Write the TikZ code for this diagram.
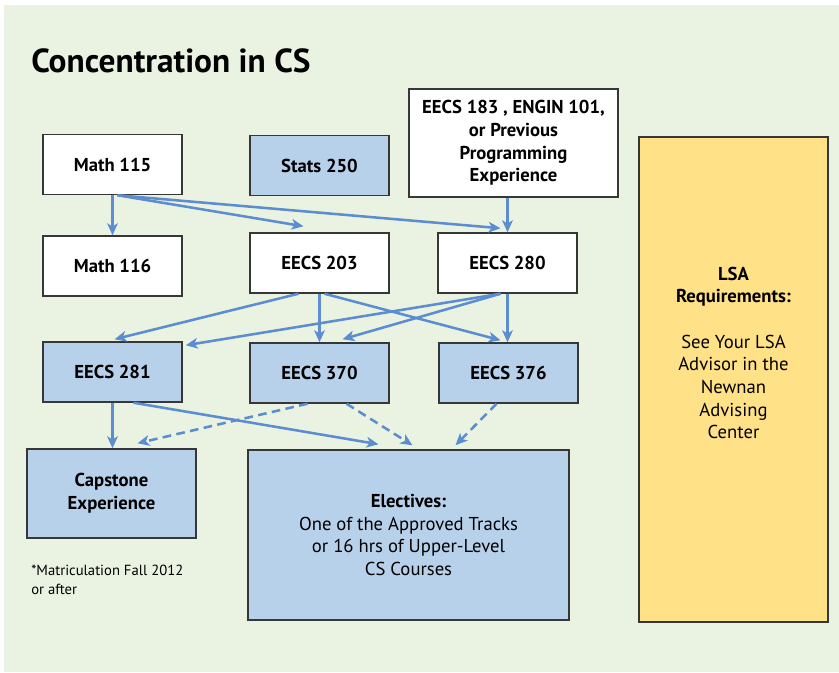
\documentclass[tikz,border=0pt]{standalone}
\usepackage{fontspec}
\setmainfont{PT Sans}
\usetikzlibrary{arrows.meta,calc}
\definecolor{bggreen}{RGB}{234,243,225}
\definecolor{boxblue}{RGB}{184,209,235}
\definecolor{lsayellow}{RGB}{255,225,135}
\definecolor{arrowblue}{RGB}{91,141,208}
\definecolor{edgegray}{RGB}{55,55,55}
\begin{document}
\begin{tikzpicture}[x = 0.75pt, y = -0.75pt,
		course/.style = {draw = edgegray, line width = 1.1pt, fill = white, minimum width = 104.25pt, minimum height = 45pt, inner sep = 0pt, align = center, font = \fontsize{14}{17}\selectfont\bfseries},
		bluecourse/.style = {course, fill = boxblue},
		prereq/.style = {draw = arrowblue, line width = 1.9pt, -{Stealth[length = 9pt, width = 8pt, inset = 2.5pt]}},
		optional/.style = {prereq, dash pattern = on 6.5pt off 4pt}]
	\useasboundingbox (0,0) rectangle (839,673);
	\fill[bggreen] (4,5) rectangle (839,672);
	\node[anchor = base west, inner xsep = 0pt, font = \fontsize{25}{30}\selectfont\bfseries] (title) at (31,73) {Concentration in CS};
	% first row
	\node[course] (m115) at (112.5,164.5) {Math 115};
	\node[bluecourse] (st250) at (319.5,165.5) {Stats 250};
	\node[course, minimum width = 156.75pt, minimum height = 81pt] (e183) at (513.5,143) {EECS 183 , ENGIN 101,\\ or Previous\\ Programming\\ Experience};
	% second row
	\node[course] (m116) at (112.5,266) {Math 116};
	\node[course] (e203) at (319.5,263) {EECS 203};
	\node[course] (e280) at (507.5,263) {EECS 280};
	% third row
	\node[bluecourse] (e281) at (112.5,372) {EECS 281};
	\node[bluecourse] (e370) at (319.5,373) {EECS 370};
	\node[bluecourse] (e376) at (508.5,373) {EECS 376};
	% last row
	\node[bluecourse, minimum width = 126.75pt, minimum height = 66.75pt] (cap) at (111.5,493.5) {Capstone\\ Experience};
	\node[bluecourse, minimum width = 240.75pt, minimum height = 127.5pt] (elec) at (408.5,535) {Electives:\\ \mdseries One of the Approved Tracks\\ \mdseries or 16 hrs of Upper-Level\\ \mdseries CS Courses};
	\node[anchor = base west, inner xsep = 0pt, align = left, font = \fontsize{11}{14.25}\selectfont] (note) at (31,594) {*Matriculation Fall 2012\\ or after};
	% LSA box
	\node[draw = edgegray, line width = 1.1pt, fill = lsayellow, minimum width = 141.75pt, minimum height = 363.75pt] (lsa) at (733.5,379.5) {};
	\node[align = center, font = \fontsize{14}{17}\selectfont] (lsatext) at (733.5,353) {\bfseries LSA\\ \bfseries Requirements:\\[17pt] See Your LSA\\ Advisor in the\\ Newnan\\ Advising\\ Center};
	% connectors
	\draw[prereq] (m115.south) -- (m116.north);
	\draw[prereq] ($(m115.south)+(5,0)$) -- ($(e203.north)+(-16,-6)$);
	\draw[prereq] ($(m115.south)+(5,0)$) -- ($(e280.north)+(-7,-4)$);
	\draw[prereq] (e280.north |- e183.south) -- (e280.north);
	\draw[prereq] ($(e203.south)+(-21,0)$) -- ($(e281.north)+(2,-2)$);
	\draw[prereq] (e203.south) -- (e370.north);
	\draw[prereq] ($(e203.south)+(5,0)$) -- ($(e376.north)+(-8,-2)$);
	\draw[prereq] ($(e280.south)+(-7,0)$) -- ($(e281.north east)+(3,4)$);
	\draw[prereq] ($(e280.south)+(-7,0)$) -- ($(e370.north)+(23,-3)$);
	\draw[prereq] (e280.south) -- (e280.south |- e376.north);
	\draw[prereq] (e281.south) -- (e281.south |- cap.north);
	\draw[prereq] ($(e281.south)+(21,0)$) -- ($(elec.north)+(-30,-5)$);
	\draw[optional] ($(e370.south)+(-12,0)$) -- ($(cap.north)+(26,-5)$);
	\draw[optional] ($(e370.south)+(27,0)$) -- ($(elec.north)+(4,-4)$);
	\draw[optional] ($(e376.south)+(-12,0)$) -- ($(elec.north)+(47,-4)$);
\end{tikzpicture}
\end{document}
